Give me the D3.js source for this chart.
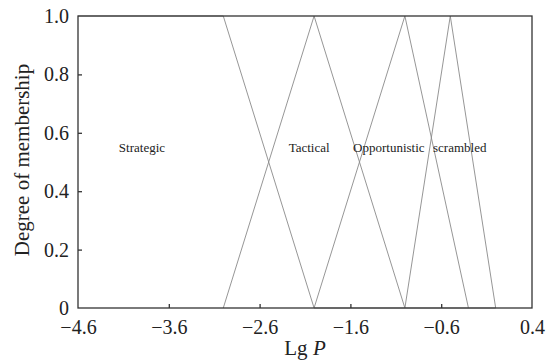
<!DOCTYPE html>
<html>
<head>
<meta charset="utf-8">
<script src="https://cdn.jsdelivr.net/npm/d3@7"></script>
<style>
  body { margin: 0; background: #fff; }
  text { font-family: "Liberation Serif", "DejaVu Serif", serif; fill: #222; }
</style>
</head>
<body>
<svg id="chart"></svg>
<script>
const WIDTH = 551;
const HEIGHT = 363;
const MARGIN = { top: 16, right: 19, bottom: 55, left: 78 };

// membership functions: breakpoints [lgP, degree]
const strategic = [[-4.6, 1], [-3.0, 1], [-2.0, 0], [0.0, 0]];
const tactical = [[-3.0, 0], [-2.0, 1], [-1.0, 0]];
const opportunistic = [[-2.0, 0], [-1.0, 1], [-0.3, 0]];
const scrambled = [[-1.0, 0], [-0.5, 1], [0.0, 0]];
const seriesList = [strategic, tactical, opportunistic, scrambled];

const labelNames = ['Strategic', 'Tactical', 'Opportunistic', 'scrambled'];
const labelX = [-4.15, -2.28, -1.57, -0.69];
const labelY = 0.55;

const xTicks = [-4.6, -3.6, -2.6, -1.6, -0.6, 0.4];
const yTicks = [0, 0.2, 0.4, 0.6, 0.8, 1.0];

const svg = d3.select('#chart')
	.attr('width', WIDTH)
	.attr('height', HEIGHT);

const x = d3.scaleLinear().domain([-4.6, 0.4]).range([MARGIN.left, WIDTH - MARGIN.right]);
const y = d3.scaleLinear().domain([0, 1]).range([HEIGHT - MARGIN.bottom, MARGIN.top]);

const line = d3.line()
	.x((d) => x(d[0]))
	.y((d) => y(d[1]));

// membership lines
svg.append('g')
	.selectAll('path')
	.data(seriesList)
	.enter()
	.append('path')
	.attr('d', line)
	.attr('fill', 'none')
	.attr('stroke', '#8a8a8a')
	.attr('stroke-width', 0.9);

// frame
svg.append('rect')
	.attr('x', x(-4.6))
	.attr('y', y(1))
	.attr('width', x(0.4) - x(-4.6))
	.attr('height', y(0) - y(1))
	.attr('fill', 'none')
	.attr('stroke', '#333')
	.attr('stroke-width', 1.3);

// axes, ticks inward
const xAxis = svg.append('g')
	.attr('transform', `translate(0,${y(0)})`)
	.call(d3.axisBottom(x).tickValues(xTicks).tickSize(-4).tickPadding(12)
		.tickFormat((d) => d3.format('.1f')(d).replace('-', '\u2212')));
const yAxis = svg.append('g')
	.attr('transform', `translate(${x(-4.6)},0)`)
	.call(d3.axisLeft(y).tickValues(yTicks).tickSize(-4).tickPadding(9)
		.tickFormat((d) => (d === 0 ? '0' : d3.format('.1f')(d))));

[xAxis, yAxis].forEach((axis) => {
	axis.select('.domain').remove();
	axis.selectAll('.tick line').attr('stroke', '#333').attr('stroke-width', 1.3);
	axis.selectAll('.tick text')
		.attr('font-family', '"Liberation Serif", serif')
		.attr('font-size', 20)
		.attr('fill', '#222');
});
// hide the inner tick marks at the frame corners
xAxis.selectAll('.tick').filter((d) => d === -4.6 || d === 0.4).select('line').remove();
yAxis.selectAll('.tick').filter((d) => d === 0 || d === 1).select('line').remove();

// curve labels
svg.append('g')
	.selectAll('text')
	.data(labelNames)
	.enter()
	.append('text')
	.attr('x', (d, i) => x(labelX[i]))
	.attr('y', y(labelY))
	.attr('dy', '0.35em')
	.attr('font-size', 13)
	.text((d) => d);

// axis titles
const xTitle = svg.append('text')
	.attr('x', (x(-4.6) + x(0.4)) / 2)
	.attr('y', 355)
	.attr('text-anchor', 'middle')
	.attr('font-size', 21);
xTitle.append('tspan').text('Lg ');
xTitle.append('tspan').attr('font-style', 'italic').text('P');

svg.append('text')
	.attr('transform', `translate(29,160) rotate(-90)`)
	.attr('text-anchor', 'middle')
	.attr('font-size', 21)
	.text('Degree of membership');
</script>
</body>
</html>
